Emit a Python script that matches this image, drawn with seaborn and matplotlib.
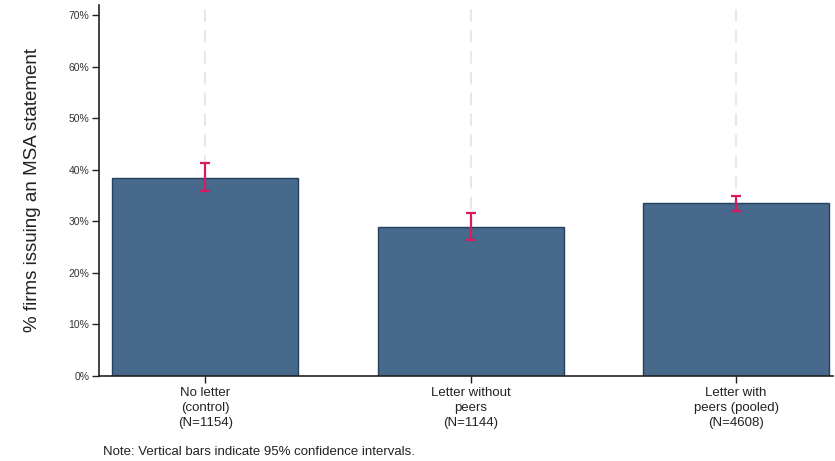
import numpy as np
import pandas as pd
import matplotlib
matplotlib.use("Agg")
import matplotlib.pyplot as plt
from matplotlib.ticker import PercentFormatter
import seaborn as sns

# ── Data ─────────────────────────────────────────────────────────────────────
groups = ["No letter\n(control)\n(N=1154)",
          "Letter without\npeers\n(N=1144)",
          "Letter with\npeers (pooled)\n(N=4608)"]
share = [38.5, 29.0, 33.5]
ci_low = [35.8, 26.3, 32.1]
ci_high = [41.4, 31.7, 35.0]

df = pd.DataFrame({"group": groups, "share": share})

sns.set_theme(style="white")
plt.rcParams["font.family"] = ["Liberation Sans", "DejaVu Sans"]

fig = plt.figure(figsize=(8.35, 4.61), dpi=100)
ax = fig.add_axes([0.1186, 0.1844, 0.879, 0.805])

sns.barplot(data=df, x="group", y="share", color="#476a8c", saturation=1,
            width=0.7, edgecolor="#24415f", linewidth=1.0, errorbar=None,
            ax=ax, zorder=2)

yerr = [np.array(share) - np.array(ci_low), np.array(ci_high) - np.array(share)]
ax.errorbar(np.arange(len(groups)), share, yerr=yerr, fmt="none",
            ecolor="#d81b60", elinewidth=1.6, capsize=3.5, capthick=1.6,
            zorder=3)

# vertical dashed grid at category centres
ax.xaxis.grid(True, color="#e8e8e8", linestyle=(0, (6, 4)), linewidth=1.5,
              zorder=0)
ax.set_axisbelow(True)

ax.set_xlim(-0.40, 2.365)
ax.set_ylim(0, 72)
ax.set_yticks(np.arange(0, 71, 10))
ax.yaxis.set_major_formatter(PercentFormatter(decimals=0))

for side in ["top", "right"]:
    ax.spines[side].set_visible(False)
for side in ["left", "bottom"]:
    ax.spines[side].set_color("#222222")
    ax.spines[side].set_linewidth(1.2)

ax.tick_params(axis="y", direction="out", length=5, width=1, color="#222222",
               labelsize=7.5, labelcolor="#333333", pad=2, left=True)
ax.tick_params(axis="x", direction="out", length=5, width=1, color="#222222",
               labelsize=9.5, labelcolor="#222222", pad=3, bottom=True)
for lbl in ax.get_xticklabels():
    lbl.set_linespacing(1.3)

ax.set_xlabel("")
ax.set_ylabel("% firms issuing an MSA statement", fontsize=13.5,
              color="#222222", labelpad=20)

fig.text(0.123, 0.012, "Note: Vertical bars indicate 95% confidence intervals.",
         fontsize=9.5, color="#222222")

plt.savefig("out.png", dpi=100)
plt.close()
